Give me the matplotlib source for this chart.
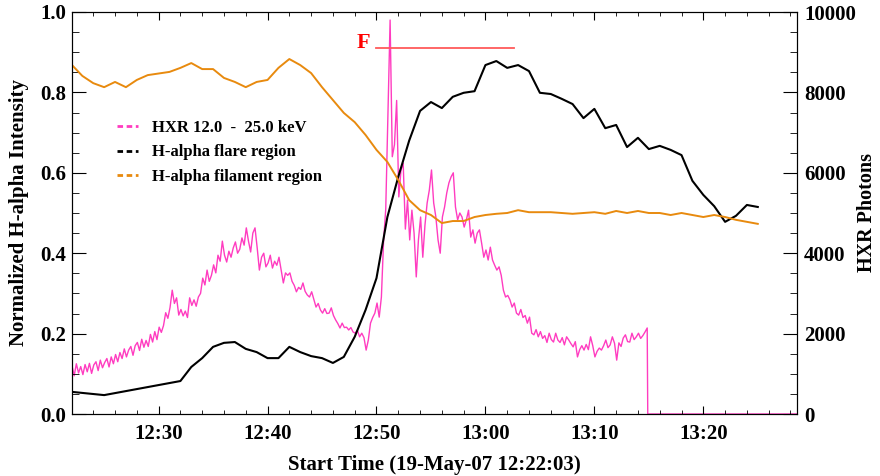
import numpy as np
import matplotlib
matplotlib.use("Agg")
import matplotlib.pyplot as plt
from matplotlib.lines import Line2D
from matplotlib.ticker import MultipleLocator, FuncFormatter

plt.rcParams["font.family"] = ["Liberation Serif", "DejaVu Serif"]
plt.rcParams["font.weight"] = "bold"
plt.rcParams["axes.labelweight"] = "bold"

# time axis in minutes after 12:00 UT
t_start = 22.05
t_end = 88.6

# H-alpha light curves (1-minute cadence), normalized
flare_t = [22.05, 25, 26, 27, 29, 31, 32, 33, 34, 35, 36, 37, 38, 39, 40, 41, 42,
           43, 44, 45, 46, 47, 48, 49, 50, 51, 52, 53, 54, 55, 56, 57, 58, 59, 60,
           61, 62, 63, 64, 65, 66, 67, 68, 69, 70, 71, 72, 73, 74, 75, 76, 77, 78,
           79, 80, 81, 82, 83, 84, 85]
flare_i = [0.055, 0.047, 0.052, 0.057, 0.067, 0.077, 0.082, 0.117, 0.139, 0.167,
           0.177, 0.179, 0.162, 0.154, 0.139, 0.139, 0.167, 0.154, 0.144, 0.139,
           0.127, 0.142, 0.192, 0.259, 0.338, 0.490, 0.590, 0.680, 0.754, 0.776,
           0.761, 0.789, 0.799, 0.803, 0.868, 0.878, 0.861, 0.868, 0.853, 0.799,
           0.796, 0.784, 0.771, 0.736, 0.759, 0.711, 0.719, 0.664, 0.687, 0.659,
           0.667, 0.657, 0.644, 0.580, 0.545, 0.517, 0.478, 0.493, 0.520, 0.515]

fil_t = [22.05] + list(range(23, 86))
fil_i = [0.868, 0.841, 0.823, 0.813, 0.826, 0.813, 0.831, 0.843, 0.847, 0.851,
         0.861, 0.873, 0.858, 0.858, 0.836, 0.826, 0.813, 0.826, 0.831, 0.861,
         0.883, 0.868, 0.848, 0.813, 0.781, 0.749, 0.726, 0.694, 0.657, 0.627,
         0.582, 0.532, 0.507, 0.495, 0.475, 0.480, 0.480, 0.490, 0.495, 0.498,
         0.500, 0.507, 0.502, 0.502, 0.502, 0.500, 0.498, 0.500, 0.502, 0.498,
         0.505, 0.500, 0.505, 0.500, 0.500, 0.495, 0.500, 0.495, 0.490, 0.495,
         0.490, 0.483, 0.478, 0.473]

# HXR 12-25 keV counts, 12 s cadence starting at 12:22:03
hxr_step = 0.2
hxr_counts = [
    1200, 950, 1250, 1020, 1180, 980, 1230, 1050, 1260, 1010,
    1220, 1300, 1080, 1340, 1150, 1280, 1380, 1170, 1420, 1250,
    1480, 1300, 1530, 1380, 1620, 1420, 1590, 1680, 1460, 1700,
    1780, 1580, 1860, 1660, 1830, 1680, 1980, 1790, 2050, 1850,
    2160, 2030, 2200, 2520, 2380, 2650, 3080, 2750, 2890, 2460,
    2600, 2440, 2560, 2400, 2890, 2700, 2840, 2680, 2910, 3000,
    3380, 3210, 3580, 3300, 3450, 3710, 3510, 3950, 3800, 4300,
    3950, 3780, 4050, 3900, 4130, 4280, 4000, 4100, 4380, 4200,
    4630, 4300, 4030, 4500, 4630, 4130, 3580, 3900, 4000, 3660,
    3760, 3950, 3630, 3800, 3700, 3900, 3580, 3260, 3510, 3450,
    3510, 3300, 3200, 3040, 3150, 3100, 3260, 3050, 2960, 2910,
    3040, 2850, 2660, 2750, 2590, 2510, 2620, 2500, 2510, 2640,
    2450, 2340, 2250, 2140, 2260, 2150, 2160, 2090, 2150, 2040,
    2010, 2080, 1920, 2010, 1900, 1590, 1840, 2260, 2400, 2510,
    2760, 2410, 2910, 4300, 5100, 7500, 9800, 6400, 6700, 7800,
    5400, 6070, 6240, 4600, 5320, 4330, 5070, 4500, 3410, 4330,
    4900, 3900, 4700, 5250, 5570, 6070, 5250, 4900, 4330, 4000,
    4900, 5150, 5500, 5750, 5900, 6000, 5150, 4830, 5000, 4900,
    4650, 4830, 5070, 4400, 4580, 4250, 4500, 4580, 4250, 3900,
    4080, 3830, 4150, 3830, 3700, 3580, 3660, 3450, 3080, 2910,
    2950, 2840, 2660, 2760, 2510, 2460, 2600, 2400, 2450, 2260,
    2410, 2010, 1970, 2100, 1920, 2050, 1880, 1950, 1780, 2010,
    1850, 1790, 2010, 1840, 1780, 1900, 1720, 1920, 1840, 1750,
    1670, 1800, 1420, 1600, 1700, 1590, 1730, 1600, 1920, 1700,
    1420, 1560, 1640, 1590, 1700, 1840, 1650, 1720, 1920, 1760,
    1340, 1770, 1680, 1890, 1970, 1800, 1790, 2010, 1850, 1920,
    2010, 1880, 1950, 2040, 2140,
]
# detector data gap after 13:14:54
gap_t = [74.9, t_end]
gap_counts = [0, 0]

# flare interval bar
flare_bar = (49.95, 62.6)
flare_bar_level = 0.91

PINK = "#ff3cc0"
ORANGE = "#e88a0e"

hxr_t = t_start + hxr_step * np.arange(len(hxr_counts))

fig = plt.figure(figsize=(8.8, 4.76), dpi=100)
ax = fig.add_axes([72 / 880, 62 / 476, 725 / 880, 402 / 476])
ax2 = ax.twinx()
ax.set_zorder(2)
ax2.set_zorder(1)
ax.patch.set_visible(False)

ax2.plot(np.append(hxr_t, gap_t), hxr_counts + gap_counts, color=PINK, lw=1.0)
ax.plot(flare_t, flare_i, color="black", lw=1.5)
ax.plot(fil_t, fil_i, color=ORANGE, lw=1.4)

ax.plot(flare_bar, [flare_bar_level] * 2, color="#ff5a5a", lw=1.3)
ax.text(flare_bar[0] - 0.5, flare_bar_level, "F", color="red",
        fontsize=16, ha="right", va="baseline")

ax.set_xlim(t_start, t_end)
ax.set_ylim(0, 1.0)
ax2.set_ylim(0, 10000)

ax.xaxis.set_major_locator(MultipleLocator(10))
ax.xaxis.set_minor_locator(MultipleLocator(2))
ax.xaxis.set_major_formatter(FuncFormatter(
    lambda t, _: f"{12 + int(t) // 60}:{int(round(t)) % 60:02d}"))
ax.yaxis.set_major_locator(MultipleLocator(0.2))
ax.yaxis.set_minor_locator(MultipleLocator(0.05))
ax.yaxis.set_major_formatter(FuncFormatter(lambda v, _: f"{v:.1f}"))
ax2.yaxis.set_major_locator(MultipleLocator(2000))
ax2.yaxis.set_minor_locator(MultipleLocator(500))

ax.tick_params(axis="both", which="both", direction="in", labelsize=15)
ax.tick_params(axis="x", which="major", length=6, top=True, pad=7)
ax.tick_params(axis="x", which="minor", length=3, top=True)
ax.tick_params(axis="y", which="major", length=10, right=False, pad=4)
ax.tick_params(axis="y", which="minor", length=5, right=False)
ax2.tick_params(axis="y", which="both", direction="in", labelsize=15, pad=5)
ax2.tick_params(axis="y", which="major", length=10)
ax2.tick_params(axis="y", which="minor", length=5)

ax.set_xlabel("Start Time (19-May-07 12:22:03)", fontsize=15, labelpad=8)
ax.set_ylabel("Normalized H-alpha Intensity", fontsize=15, labelpad=8)
ax2.set_ylabel("HXR Photons", fontsize=14.5, labelpad=1)

handles = [
    Line2D([], [], color=PINK, lw=2, dashes=(2, 1.3)),
    Line2D([], [], color="black", lw=2, dashes=(2, 1.3)),
    Line2D([], [], color=ORANGE, lw=2, dashes=(2, 1.3)),
]
labels = ["HXR 12.0  -  25.0 keV", "H-alpha flare region", "H-alpha filament region"]
ax.legend(handles, labels, loc="upper left", bbox_to_anchor=(0.062, 0.732),
          frameon=False, fontsize=12, handlelength=1.26, handletextpad=0.84,
          labelspacing=0.52, borderpad=0, borderaxespad=0)

fig.savefig("out.png", dpi=100)
